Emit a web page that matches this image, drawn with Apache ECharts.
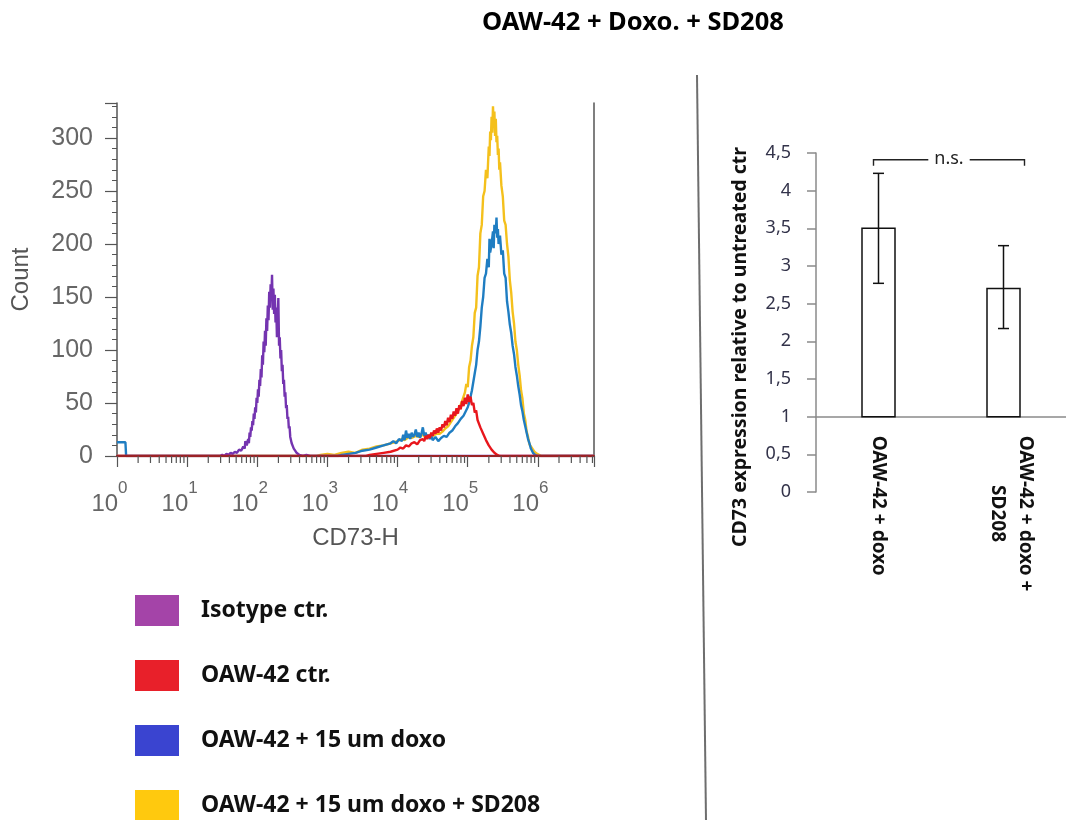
<!DOCTYPE html>
<html>
<head>
<meta charset="utf-8">
<script src="https://cdn.jsdelivr.net/npm/echarts@6/dist/echarts.min.js"></script>
<style>
  html, body { margin: 0; padding: 0; background: #fff; }
  #chart { width: 1066px; height: 820px; }
</style>
</head>
<body>
<div id="chart"></div>
<script>
// ---- Flow cytometry histograms: [log10(CD73-H), count] ----
const isotypeCtr = [[0,0],[1.47,0],[1.50,1],[1.53,0],[1.56,2],[1.59,1],[1.62,3],[1.65,2],[1.68,4],[1.71,3],[1.74,6],[1.77,5],[1.80,9],[1.82,7],[1.83,14],[1.85,10],[1.86,11],[1.87,16],[1.88,12],[1.89,22],[1.90,18],[1.91,27],[1.92,24],[1.93,33],[1.94,29],[1.95,40],[1.96,35],[1.97,46],[1.98,41],[1.99,55],[2.00,50],[2.01,63],[2.02,56],[2.03,72],[2.04,66],[2.05,82],[2.06,74],[2.07,95],[2.08,86],[2.09,108],[2.10,98],[2.11,118],[2.12,104],[2.13,130],[2.14,118],[2.15,142],[2.16,128],[2.17,155],[2.18,140],[2.19,162],[2.20,148],[2.21,171],[2.22,138],[2.23,158],[2.24,134],[2.25,152],[2.26,126],[2.27,140],[2.28,112],[2.29,128],[2.30,149],[2.31,104],[2.32,112],[2.33,92],[2.34,100],[2.35,80],[2.36,86],[2.37,68],[2.38,72],[2.39,56],[2.40,60],[2.41,45],[2.42,48],[2.43,35],[2.44,37],[2.45,26],[2.46,28],[2.47,18],[2.48,19],[2.49,12],[2.50,13],[2.52,7],[2.54,5],[2.56,3],[2.60,1],[2.65,0],[2.70,1],[2.75,0],[6.8,0]];

const oawCtr = [[0,0],[3.55,0],[3.60,1],[3.70,2],[3.80,3],[3.90,4],[4.00,6],[4.04,8],[4.08,7],[4.12,10],[4.16,9],[4.20,12],[4.24,13],[4.28,11],[4.32,15],[4.36,16],[4.38,14],[4.40,19],[4.42,16],[4.44,20],[4.46,17],[4.48,22],[4.50,19],[4.52,24],[4.54,21],[4.56,26],[4.58,22],[4.60,27],[4.62,24],[4.64,30],[4.66,27],[4.68,33],[4.70,29],[4.72,36],[4.74,32],[4.76,39],[4.78,35],[4.80,42],[4.82,38],[4.84,45],[4.86,40],[4.88,48],[4.90,44],[4.92,52],[4.94,47],[4.96,55],[4.98,49],[5.00,58],[5.02,51],[5.04,56],[5.06,48],[5.08,50],[5.10,41],[5.12,43],[5.14,34],[5.16,35],[5.18,27],[5.20,28],[5.22,21],[5.24,22],[5.26,15],[5.28,15],[5.30,10],[5.32,9],[5.34,6],[5.36,5],[5.38,3],[5.42,1],[5.46,0],[6.8,0]];

const oawDoxo = [[0,13],[0.12,13],[0.13,0],[3.15,0],[3.20,1],[3.30,2],[3.40,3],[3.50,5],[3.60,6],[3.70,8],[3.80,10],[3.90,12],[3.94,14],[3.98,12],[4.02,16],[4.06,14],[4.08,20],[4.10,15],[4.12,24],[4.14,17],[4.16,21],[4.18,16],[4.20,22],[4.22,18],[4.24,20],[4.26,25],[4.28,18],[4.30,22],[4.32,17],[4.34,21],[4.36,27],[4.38,19],[4.40,22],[4.42,17],[4.44,20],[4.46,16],[4.48,19],[4.50,15],[4.54,18],[4.58,14],[4.62,17],[4.66,19],[4.70,18],[4.74,22],[4.78,24],[4.82,28],[4.86,31],[4.90,35],[4.94,38],[4.97,42],[5.00,46],[5.02,50],[5.04,56],[5.06,62],[5.08,70],[5.10,78],[5.12,86],[5.14,100],[5.16,108],[5.18,122],[5.20,140],[5.22,150],[5.24,168],[5.26,172],[5.28,186],[5.30,178],[5.31,205],[5.32,192],[5.34,200],[5.36,212],[5.37,196],[5.38,218],[5.40,210],[5.41,225],[5.42,206],[5.43,214],[5.44,200],[5.46,208],[5.48,190],[5.50,194],[5.52,172],[5.54,168],[5.56,146],[5.58,136],[5.60,124],[5.62,116],[5.64,104],[5.66,96],[5.68,84],[5.70,76],[5.72,66],[5.74,58],[5.76,48],[5.78,42],[5.80,34],[5.82,28],[5.84,22],[5.86,16],[5.88,12],[5.90,7],[5.93,3],[5.96,1],[6.00,0],[6.8,0]];

const oawDoxoSd208 = [[0,0],[2.85,0],[2.90,1],[3.00,2],[3.10,1],[3.20,3],[3.30,4],[3.40,3],[3.50,6],[3.60,7],[3.70,9],[3.80,10],[3.90,12],[3.96,13],[4.00,14],[4.06,16],[4.10,15],[4.16,18],[4.20,17],[4.26,19],[4.30,18],[4.36,20],[4.40,17],[4.46,19],[4.50,19],[4.56,21],[4.60,21],[4.64,23],[4.68,26],[4.72,28],[4.76,32],[4.80,36],[4.84,40],[4.88,45],[4.92,52],[4.96,60],[4.98,68],[5.00,65],[5.02,84],[5.04,90],[5.06,104],[5.08,112],[5.10,135],[5.12,140],[5.14,170],[5.16,178],[5.18,210],[5.20,218],[5.22,245],[5.24,250],[5.26,270],[5.28,262],[5.30,292],[5.31,283],[5.32,306],[5.33,298],[5.34,320],[5.35,305],[5.36,330],[5.37,312],[5.38,325],[5.39,302],[5.40,318],[5.41,296],[5.42,302],[5.43,284],[5.44,290],[5.45,270],[5.46,277],[5.48,255],[5.50,245],[5.52,222],[5.54,218],[5.56,200],[5.58,188],[5.60,166],[5.62,154],[5.64,136],[5.66,125],[5.68,108],[5.70,100],[5.72,86],[5.74,76],[5.76,62],[5.78,54],[5.80,40],[5.82,34],[5.84,23],[5.86,18],[5.88,11],[5.91,8],[5.95,4],[5.99,2],[6.05,0],[6.8,0]];

const histNames  = ['Isotype ctr.', 'OAW-42 ctr.', 'OAW-42 + 15 um doxo', 'OAW-42 + 15 um doxo + SD208'];
const lineColors = ['#7434b0', '#e8161c', '#1f7dc2', '#f4c01c'];
const swatchColors = ['#a444a8', '#e8202a', '#3a44d0', '#ffc90e'];

// Decade exponents of the log axis and the 2..9 minor positions inside each decade
const decades = [0, 1, 2, 3, 4, 5, 6];
const minorMultipliers = [2, 3, 4, 5, 6, 7, 8, 9];
const xLogMax = 6.8;
const minorTickLogs = [];
decades.forEach(d => minorMultipliers.forEach(m => {
  const v = d + Math.log10(m);
  if (v < xLogMax) minorTickLogs.push(v);
}));

// ---- Bar chart: CD73 expression relative to untreated control ----
const barCategories = ['OAW-42 + doxo', 'OAW-42 + doxo +\nSD208'];
const barMeans = [3.5, 2.7];
const errLow  = [2.77, 2.17];
const errHigh = [4.23, 3.27];
const barBaseline = 1;
const barYMax = 4.5;
const sigLevel = 4.41;

const chart = echarts.init(document.getElementById('chart'), null, { renderer: 'canvas' });

const barGrid = { left: 816, top: 153, width: 266, height: 339 };
const axisOffset = -barGrid.height * barBaseline / barYMax;

const sansGrey = '#666';
const histLine = 2.4;

// two-line category names get their second line centred under the first
const categoryLabelData = barCategories.map(c =>
  c.indexOf('\n') >= 0 ? { value: c, textStyle: { padding: [0, 0, 16, 0] } } : c
);

const option = {
  animation: false,
  backgroundColor: '#fff',
  title: {
    text: 'OAW-42 + Doxo. + SD208',
    left: 477, top: 5,
    textStyle: { fontFamily: 'Noto Sans', fontWeight: 'bold', fontSize: 25.5, color: '#000' }
  },
  legend: {
    orient: 'vertical', left: 135, top: 595, height: 260, padding: 0,
    itemWidth: 44, itemHeight: 31, itemGap: 34,
    icon: 'rect', selectedMode: false,
    textStyle: { fontFamily: 'Noto Sans', fontWeight: 'bold', fontSize: 23, color: '#111', padding: [0, 0, 0, 17] },
    data: histNames.map((n, i) => ({ name: n, itemStyle: { color: swatchColors[i], borderWidth: 0 } }))
  },
  grid: [
    { left: 117, top: 103, width: 477, height: 353 },
    barGrid
  ],
  xAxis: [
    {
      type: 'value', gridIndex: 0, min: 0, max: xLogMax, interval: 1, z: 5,
      name: 'CD73-H', nameLocation: 'middle', nameGap: 70,
      nameTextStyle: { fontFamily: 'Liberation Sans', fontSize: 24, color: '#555' },
      axisLine: { lineStyle: { color: '#9a2226', width: 2 } },
      axisTick: { length: 11, lineStyle: { color: '#555', width: 1.2 } },
      splitLine: { show: false },
      axisLabel: {
        margin: 24,
        padding: [0, 15, 0, 0],
        formatter: v => (decades.indexOf(v) >= 0 ? '{b|10}{s|' + v + '}' : ''),
        rich: {
          b: { fontFamily: 'Liberation Sans', fontSize: 24, color: sansGrey, lineHeight: 36, verticalAlign: 'bottom' },
          s: { fontFamily: 'Liberation Sans', fontSize: 17, color: sansGrey, lineHeight: 14, verticalAlign: 'top' }
        }
      }
    },
    {
      type: 'category', gridIndex: 1, data: categoryLabelData, offset: axisOffset,
      axisLine: { lineStyle: { color: '#8a8a8a', width: 1.5 } },
      axisTick: { show: false },
      axisLabel: {
        rotate: -90, margin: 19, interval: 0,
        fontFamily: 'Noto Sans', fontWeight: 'bold', fontSize: 19, color: '#111',
        formatter: v => {
          const lines = v.split('\n');
          return lines.map((l, i) => (i === 0 ? '{a|' + l + '}' : '{c|' + l + '}')).join('\n');
        },
        rich: {
          a: { fontFamily: 'Noto Sans', fontWeight: 'bold', fontSize: 19, color: '#111', lineHeight: 28 },
          c: { fontFamily: 'Noto Sans', fontWeight: 'bold', fontSize: 19, color: '#111', lineHeight: 28, align: 'center' }
        }
      }
    }
  ],
  yAxis: [
    {
      type: 'value', gridIndex: 0, min: 0, max: 333, interval: 50,
      name: 'Count', nameLocation: 'middle', nameGap: 84,
      nameTextStyle: { fontFamily: 'Liberation Sans', fontSize: 24, color: '#555' },
      axisLine: { show: true, lineStyle: { color: '#555', width: 1.5 } },
      axisTick: { show: true, length: 12, lineStyle: { color: '#555', width: 1.2 } },
      minorTick: { show: true, splitNumber: 5, length: 5, lineStyle: { color: '#555', width: 1 } },
      splitLine: { show: false },
      axisLabel: {
        margin: 24, fontFamily: 'Liberation Sans', fontSize: 25, color: sansGrey,
        formatter: v => (v % 50 === 0 ? String(v) : '')
      }
    },
    {
      type: 'value', gridIndex: 0, min: 0, max: 333, position: 'right',
      axisLine: { show: true, lineStyle: { color: '#555', width: 1.5 } },
      axisTick: { show: false }, axisLabel: { show: false }, splitLine: { show: false }
    },
    {
      type: 'value', gridIndex: 1, min: 0, max: barYMax, interval: 0.5,
      axisLine: { show: true, lineStyle: { color: '#8a8a8a', width: 1.5 } },
      axisTick: { show: true, length: 9, lineStyle: { color: '#8a8a8a', width: 1.5 } },
      splitLine: { show: false },
      axisLabel: {
        margin: 25, fontFamily: 'Noto Sans', fontSize: 18, color: '#33334a',
        formatter: v => String(v).replace('.', ',')
      }
    }
  ],
  graphic: [
    {
      type: 'line', silent: true,
      shape: { x1: 697, y1: 75, x2: 706, y2: 820 },
      style: { stroke: '#6e6e6e', lineWidth: 2 }
    },
    {
      type: 'text', silent: true, x: 740, y: 347, rotation: Math.PI / 2,
      style: {
        text: 'CD73 expression relative to untreated ctr',
        fontFamily: 'Noto Sans', fontWeight: 'bold', fontSize: 19.5, fill: '#111',
        align: 'center', verticalAlign: 'middle'
      }
    }
  ],
  series: [
    // histograms (drawn back to front)
    { name: histNames[3], type: 'line', xAxisIndex: 0, yAxisIndex: 0, data: oawDoxoSd208,
      symbol: 'none', color: lineColors[3], lineStyle: { width: histLine, color: lineColors[3] }, z: 2 },
    { name: histNames[2], type: 'line', xAxisIndex: 0, yAxisIndex: 0, data: oawDoxo,
      symbol: 'none', color: lineColors[2], lineStyle: { width: histLine, color: lineColors[2] }, z: 2 },
    { name: histNames[0], type: 'line', xAxisIndex: 0, yAxisIndex: 0, data: isotypeCtr,
      symbol: 'none', color: lineColors[0], lineStyle: { width: histLine, color: lineColors[0] }, z: 2 },
    { name: histNames[1], type: 'line', xAxisIndex: 0, yAxisIndex: 0, data: oawCtr,
      symbol: 'none', color: lineColors[1], lineStyle: { width: histLine, color: lineColors[1] }, z: 2 },
    // minor ticks of the logarithmic CD73-H axis
    {
      type: 'custom', xAxisIndex: 0, yAxisIndex: 0, silent: true, z: 6,
      data: minorTickLogs.map(v => [v, 0]),
      renderItem: (params, api) => {
        const p = api.coord([api.value(0), api.value(1)]);
        return { type: 'line', shape: { x1: p[0], y1: p[1], x2: p[0], y2: p[1] + 7 },
                 style: { stroke: '#555', lineWidth: 1.2 } };
      }
    },
    // bars from the baseline of 1 to each mean
    {
      type: 'custom', xAxisIndex: 1, yAxisIndex: 2, silent: true, z: 3,
      data: barMeans.map((m, i) => [i, m]),
      renderItem: (params, api) => {
        const top = api.coord([api.value(0), api.value(1)]);
        const base = api.coord([api.value(0), barBaseline]);
        const w = 33;
        return { type: 'rect', shape: { x: top[0] - w / 2, y: top[1], width: w, height: base[1] - top[1] },
                 style: { fill: '#fff', stroke: '#111', lineWidth: 1.5 } };
      }
    },
    // error bars
    {
      type: 'custom', xAxisIndex: 1, yAxisIndex: 2, silent: true, z: 4,
      data: barMeans.map((m, i) => [i, errLow[i], errHigh[i]]),
      renderItem: (params, api) => {
        const lo = api.coord([api.value(0), api.value(1)]);
        const hi = api.coord([api.value(0), api.value(2)]);
        const c = 5.5;
        const st = { stroke: '#111', lineWidth: 1.5 };
        return { type: 'group', children: [
          { type: 'line', shape: { x1: lo[0], y1: lo[1], x2: hi[0], y2: hi[1] }, style: st },
          { type: 'line', shape: { x1: hi[0] - c, y1: hi[1], x2: hi[0] + c, y2: hi[1] }, style: st },
          { type: 'line', shape: { x1: lo[0] - c, y1: lo[1], x2: lo[0] + c, y2: lo[1] }, style: st }
        ] };
      }
    },
    // significance bracket
    {
      type: 'custom', xAxisIndex: 1, yAxisIndex: 2, silent: true, z: 5,
      data: [[0, 1, sigLevel]],
      renderItem: (params, api) => {
        const a = api.coord([api.value(0), api.value(2)]);
        const b = api.coord([api.value(1), api.value(2)]);
        const x0 = a[0] - 5, x1 = b[0] + 21, y = a[1];
        return { type: 'group', children: [
          { type: 'polyline', shape: { points: [[x0, y + 6], [x0, y], [x1, y], [x1, y + 6]] },
            style: { stroke: '#222', lineWidth: 1.4, fill: null } },
          { type: 'text', x: (x0 + x1) / 2, y: y - 1,
            style: { text: 'n.s.', fontFamily: 'Noto Sans', fontSize: 18, fill: '#222',
                     align: 'center', verticalAlign: 'middle', backgroundColor: '#fff', padding: [0, 6] } }
        ] };
      }
    }
  ]
};

chart.setOption(option);
</script>
</body>
</html>
